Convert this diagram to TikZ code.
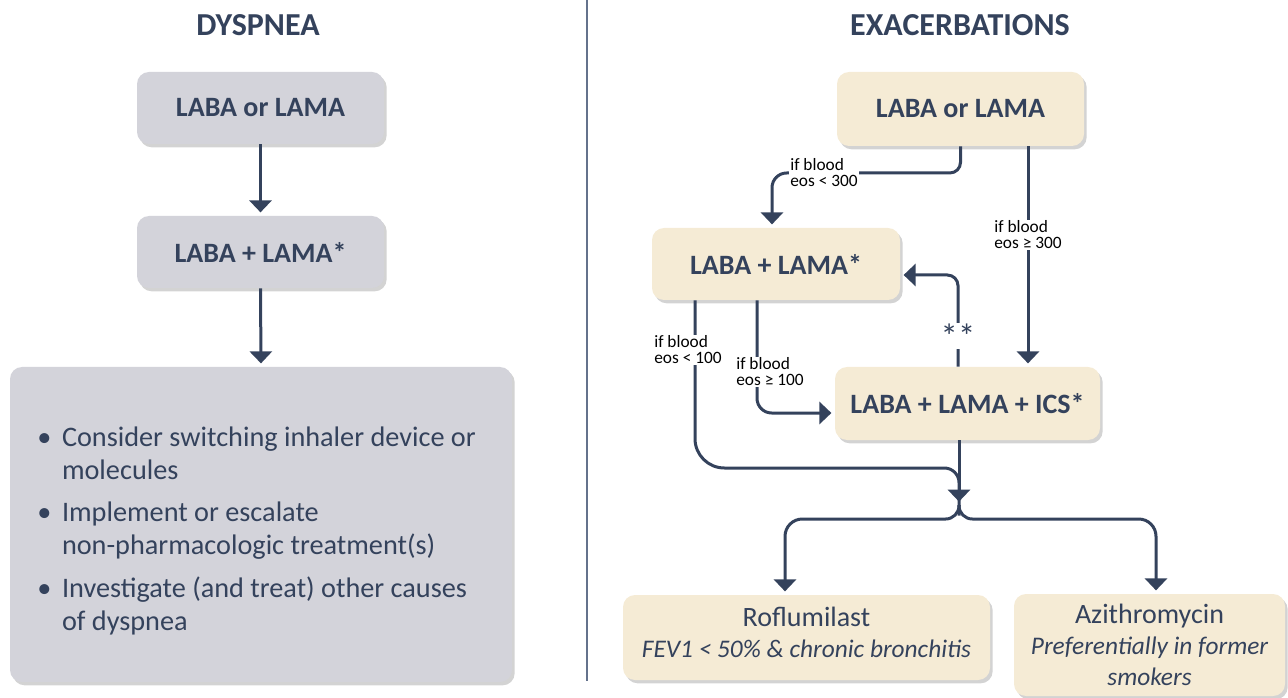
\documentclass[tikz,border=0pt]{standalone}
\usepackage{fontspec}
\setmainfont{Carlito}
\usetikzlibrary{arrows.meta,shadows}
\definecolor{navy}{RGB}{52,66,92}
\definecolor{graybox}{RGB}{211,211,218}
\definecolor{creambox}{RGB}{245,235,213}
\definecolor{divider}{RGB}{100,114,140}
\tikzset{
  box/.style={rounded corners=9pt, inner sep=0pt, align=center, text=navy,
    drop shadow={opacity=0.35, shadow xshift=2pt, shadow yshift=-2.5pt}},
  gbox/.style={box, fill=graybox},
  cbox/.style={box, fill=creambox},
  title/.style={font=\fontsize{24}{28}\selectfont\bfseries, text=navy},
  main/.style={font=\fontsize{21}{25}\selectfont\bfseries},
  conn/.style={draw=navy, line width=2.25pt},
  arr/.style={conn, -{Triangle[width=16.5pt,length=9pt]}, shorten >=2.5pt},
  lbl/.style={fill=white, inner sep=1pt, align=left, text=black,
    font=\fontsize{13}{12}\selectfont},
  boxtext/.style={text=navy, align=center, font=\fontsize{21}{23.5}\selectfont},
}
\begin{document}
\begin{tikzpicture}[x=0.75pt, y=-0.75pt]
\useasboundingbox (0,0) rectangle (1288,698);
% divider
\draw[divider, line width=1.1pt] (587,0) -- (587,681);
% titles
\node[title] (t1) at (258,25) {DYSPNEA};
\node[title] (t2) at (960,25) {EXACERBATIONS};
% left column
\node[gbox, main, minimum width=185.25pt, minimum height=54pt] (L1) at (260.5,108) {LABA or LAMA};
\node[gbox, main, minimum width=185.25pt, minimum height=54pt] (L2) at (260.5,252) {LABA + LAMA*};
\node[gbox, minimum width=376.5pt, minimum height=236.25pt] (L3) at (261,524.5) {};
\node[text=navy, anchor=north west, inner sep=0pt, font=\fontsize{21.2}{24.6}\selectfont] (L3t) at (37,423)
  {\begin{tabular}{@{}l@{\hspace{8pt}}l@{}}
   \textbullet & Consider switching inhaler device or\\
               & molecules\\[7.5pt]
   \textbullet & Implement or escalate\\
               & non-pharmacologic treatment(s)\\[7.5pt]
   \textbullet & Investigate (and treat) other causes\\
               & of dyspnea
   \end{tabular}};
\draw[arr] (L1.south) -- (L2.north);
\draw[arr] (L2.south) -- (L3.north);
% right column
\node[cbox, main, minimum width=185.25pt, minimum height=55.5pt] (R1) at (960.5,109) {LABA or LAMA};
\node[cbox, main, minimum width=186pt, minimum height=54pt] (R2) at (776,264) {LABA + LAMA*};
\node[cbox, main, minimum width=198.75pt, minimum height=54.75pt] (R3) at (967.5,403.5) {LABA + LAMA + ICS*};
\node[cbox, minimum width=275.25pt, minimum height=63.75pt,
  label={[boxtext, yshift=3.75pt]center:{Roflumilast\\ {\fontsize{19}{23.5}\selectfont\itshape FEV1 < 50\% \& chronic bronchitis}}}] (R4) at (806.5,637.5) {};
\node[cbox, minimum width=203.25pt, minimum height=76.5pt, font=\fontsize{21}{23.5}\selectfont] (R5) at (1149.5,645)
  {Azithromycin\\ {\fontsize{19}{23.5}\selectfont\itshape Preferentially in former}\\ {\fontsize{19}{23.5}\selectfont\itshape smokers}};
% helper coordinates
\coordinate (c1) at (772,173);
\coordinate (c2) at (1028,0);
\coordinate (c3) at (958,275);
\coordinate (c5) at (695,468);
\coordinate (c7) at (757,413);
\coordinate (j) at (959,505);
\coordinate (s) at (959,519);
\coordinate (c8) at (785,0);
\coordinate (c9) at (1156,0);
% connectors
\draw[arr, rounded corners=8pt] (R1.south) -- (R1.south |- c1) [rounded corners=11pt] -- (c1) -- (R2.north -| c1);
\draw[arr] (R1.south -| c2) -- (R3.north -| c2);
\draw[arr, rounded corners=8pt] (R3.north -| c3) |- (R2.east |- c3);
\draw[conn, rounded corners=22pt] (R2.south -| c5) -- (c5) [rounded corners=11pt] -- (c5 -| j) -- ([yshift=-8pt]j);
\draw[arr, rounded corners=11pt] (R2.south -| c7) |- (R3.west |- c7);
\draw[arr] (R3.south -| j) -- (j);
\draw[arr, rounded corners=10pt] (j) -- (s) [rounded corners=13pt] -- (s -| c8) -- (R4.north -| c8);
\draw[arr, rounded corners=10pt] (j) -- (s) [rounded corners=13pt] -- (s -| c9) -- (R5.north -| c9);
% labels
\node[lbl] (n1) at (824,173) {if blood\\eos < 300};
\node[lbl] (n2) at (1028,235) {if blood\\eos ≥ 300};
\node[lbl, font=\fontsize{26}{26}\selectfont, text=navy, inner sep=0.5pt] (n3) at (958,336) {**};
\node[lbl] (n4) at (688,350) {if blood\\eos < 100};
\node[lbl] (n5) at (770,372) {if blood\\eos ≥ 100};
\end{tikzpicture}
\end{document}
